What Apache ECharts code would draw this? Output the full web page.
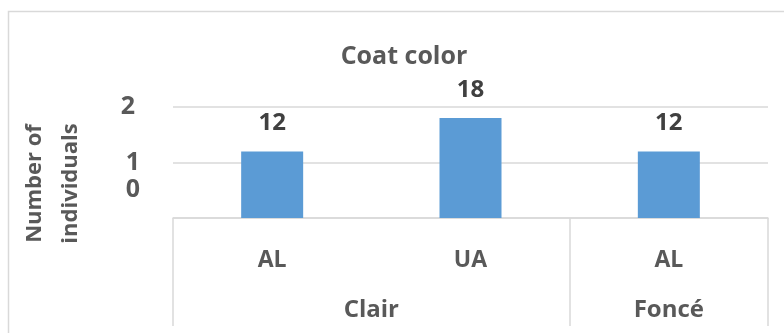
<!DOCTYPE html>
<html>
<head>
<meta charset="utf-8">
<script src="https://cdn.jsdelivr.net/npm/echarts@6/dist/echarts.min.js"></script>
<style>
  html, body { margin: 0; padding: 0; background: #fff; }
  #chart { width: 784px; height: 333px; }
</style>
</head>
<body>
<div id="chart"></div>
<script>
// Coat colour counts, split by colour group
const categories = ['AL', 'UA', 'AL'];
const values = [12, 18, 12];
const groups = ['Clair', 'Foncé'];
const groupSpans = [2, 1];
// y tick labels as shown next to the grid
const yTickValues = [5, 10, 20];
const yTickLabels = ['0', '1', '2'];

const FONT = '"Open Sans", sans-serif';
const GRID_COLOR = '#d9d9d9';
const TEXT = '#595959';

// group boundaries and centres in category units
const groupEdges = [0];
groupSpans.forEach(s => groupEdges.push(groupEdges[groupEdges.length - 1] + s));
const groupCentres = groupSpans.map((s, i) => groupEdges[i] + s / 2);

const chart = echarts.init(document.getElementById('chart'));
chart.setOption({
  animation: false,
  title: {
    text: 'Coat color',
    left: 399,
    top: 39,
    textAlign: 'center',
    textStyle: { fontFamily: FONT, fontWeight: 'bold', fontSize: 25, color: TEXT }
  },
  graphic: [{
    type: 'rect',
    shape: { x: 8.5, y: 11.5, width: 900, height: 400 },
    style: { fill: 'none', stroke: GRID_COLOR, lineWidth: 1.5 },
    silent: true,
    z: -1
  }],
  grid: { left: 173, right: 16, top: 107, bottom: 115, containLabel: false },
  xAxis: [{
    type: 'category',
    data: categories,
    axisLine: { lineStyle: { color: GRID_COLOR, width: 1.5 } },
    axisTick: { show: false },
    axisLabel: {
      margin: 31,
      fontFamily: FONT, fontWeight: 'bold', fontSize: 23, color: TEXT
    }
  }, {
    type: 'value',
    position: 'bottom',
    min: 0,
    max: groupEdges[groupEdges.length - 1],
    axisLine: { show: false },
    splitLine: { show: false },
    axisTick: {
      show: true,
      customValues: groupEdges,
      length: 108,
      lineStyle: { color: GRID_COLOR, width: 1.5 }
    },
    axisLabel: {
      customValues: groupCentres,
      margin: 80,
      formatter: v => groups[groupCentres.indexOf(v)] || '',
      fontFamily: FONT, fontWeight: 'bold', fontSize: 24, color: TEXT
    }
  }],
  yAxis: {
    type: 'value',
    min: 0,
    max: 20,
    interval: 10,
    name: 'Number of\nindividuals',
    nameLocation: 'middle',
    nameRotate: 90,
    nameGap: 84,
    nameTextStyle: {
      fontFamily: FONT, fontWeight: 'bold', fontSize: 22, color: TEXT,
      lineHeight: 36, padding: [0, 42, 0, 0]
    },
    axisLine: { show: false },
    axisTick: { show: false },
    splitLine: { lineStyle: { color: GRID_COLOR, width: 1.5 } },
    axisLabel: {
      customValues: yTickValues,
      formatter: v => {
        const t = yTickLabels[yTickValues.indexOf(v)] || '';
        return v === 20 ? '{top|' + t + '}' : t;
      },
      rich: {
        top: { fontFamily: FONT, fontWeight: 'bold', fontSize: 25, color: TEXT, padding: [0, 5, 0, 0] }
      },
      margin: 33,
      fontFamily: FONT, fontWeight: 'bold', fontSize: 25, color: TEXT
    }
  },
  series: [{
    type: 'bar',
    data: values,
    barWidth: 62,
    itemStyle: { color: '#5b9bd5' },
    label: {
      show: true,
      position: 'top',
      distance: 16,
      fontFamily: FONT, fontWeight: 'bold', fontSize: 24, color: '#404040'
    }
  }]
});
</script>
</body>
</html>
